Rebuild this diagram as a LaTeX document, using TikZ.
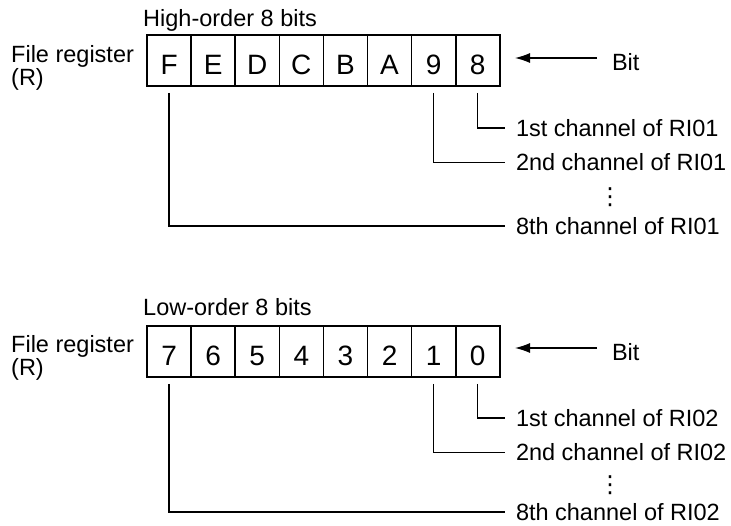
\documentclass[tikz,border=0pt]{standalone}
\usepackage{fontspec}
\setmainfont{Liberation Sans}
\newfontfamily\symfont{DejaVu Sans}
\usetikzlibrary{arrows.meta}

\tikzset{
  bitcell/.style={draw,line width=1.6pt,minimum width=44.1pt,minimum height=51pt,
    inner sep=0pt,text height=28pt,text depth=0pt,font=\fontsize{28}{32}\selectfont},
  chanlabel/.style={anchor=west,inner xsep=11pt,inner ysep=0pt,outer sep=0pt,
    font=\fontsize{23.5}{27}\selectfont},
  plainlabel/.style={inner sep=0pt,font=\fontsize{23.5}{27}\selectfont},
  bitlabel/.style={anchor=base west,inner xsep=15pt,inner ysep=0pt,outer sep=0pt,
    font=\fontsize{23.5}{27}\selectfont},
  dotlabel/.style={inner sep=0pt,font=\symfont\fontsize{23.5}{27}\selectfont},
  lead/.style={line width=1.2pt},
  bitarrow/.style={line width=1.2pt,-{Latex[length=15pt,width=10pt]}},
}

\begin{document}
\begin{tikzpicture}[x=1pt,y=-1pt]
  \useasboundingbox (0,0) rectangle (731,526);

  % high-order byte
  \node[plainlabel,anchor=base west] (hhead) at (143,26.7) {High-order 8 bits};
  \node[plainlabel,anchor=north west,align=left,
    font=\fontsize{23.5}{16.5}\selectfont] (hfile) at (11,45) {File register\\(R)};
  \foreach \bitname [count=\i from 0] in {F,E,D,C,B,A,9,8}
    \node[bitcell] (h\bitname) at (169.05+44.1*\i,60.5) {\bitname};

  \node[bitlabel] (hbit) at (597,71) {Bit};
  \coordinate (htip) at (515,58);
  \draw[bitarrow] (hbit.west |- htip) -- (htip);

  \node[chanlabel] (hch1) at (505,128) {1st channel of RI01};
  \node[chanlabel] (hch2) at (505,162.5) {2nd channel of RI01};
  \node[dotlabel] (hdots) at (610,197) {⋮};
  \node[chanlabel] (hch8) at (505,226) {8th channel of RI01};

  \draw[lead] ([yshift=-6pt]h8.south) |- (hch1.west);
  \draw[lead] ([yshift=-6pt]h9.south) |- (hch2.west);
  \draw[lead] ([yshift=-6pt]hF.south) |- (hch8.west);

  % low-order byte
  \node[plainlabel,anchor=base west] (lhead) at (143,316) {Low-order 8 bits};
  \node[plainlabel,anchor=north west,align=left,
    font=\fontsize{23.5}{16.5}\selectfont] (lfile) at (11,335) {File register\\(R)};
  \foreach \bitname [count=\i from 0] in {7,6,5,4,3,2,1,0}
    \node[bitcell] (l\bitname) at (169.05+44.1*\i,351.5) {\bitname};

  \node[bitlabel] (lbit) at (597,361) {Bit};
  \coordinate (ltip) at (515,348);
  \draw[bitarrow] (lbit.west |- ltip) -- (ltip);

  \node[chanlabel] (lch1) at (505,418) {1st channel of RI02};
  \node[chanlabel] (lch2) at (505,452.5) {2nd channel of RI02};
  \node[dotlabel] (ldots) at (610,485) {⋮};
  \node[chanlabel] (lch8) at (505,512) {8th channel of RI02};

  \draw[lead] ([yshift=-6pt]l0.south) |- (lch1.west);
  \draw[lead] ([yshift=-6pt]l1.south) |- (lch2.west);
  \draw[lead] ([yshift=-6pt]l7.south) |- (lch8.west);
\end{tikzpicture}
\end{document}
